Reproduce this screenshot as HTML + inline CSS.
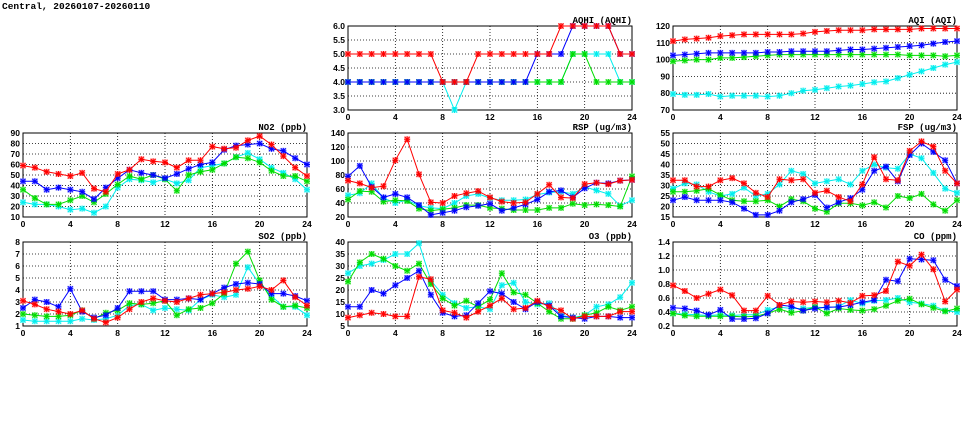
<!DOCTYPE html>
<html><head><meta charset="utf-8">
<style>
html,body{margin:0;padding:0;background:#fff;}
svg{display:block;}
text{font-family:"Liberation Mono",monospace;font-weight:bold;fill:#000;}
.tk{font-family:"Liberation Sans",sans-serif;font-size:8.5px;}
.ttl{font-size:9px;}
</style></head>
<body>
<svg id="chart" width="975" height="447" viewBox="0 0 975 447" xmlns="http://www.w3.org/2000/svg">
<rect width="975" height="447" fill="#fff"/>
<text x="2" y="9" font-size="9.5">Central, 20260107-20260110</text>
</svg>
<script>
const hours = [0,1,2,3,4,5,6,7,8,9,10,11,12,13,14,15,16,17,18,19,20,21,22,23,24];
const xTicks = [0,4,8,12,16,20,24];
const seriesColors = ['#ff0000','#0000ff','#00dd00','#00eeee'];
const seriesNames = ['red','blue','green','cyan'];

const aqhiRed   = [5,5,5,5,5,5,5,5,4,4,4,5,5,5,5,5,5,5,6,6,6,6,6,5,5];
const aqhiBlue  = [4,4,4,4,4,4,4,4,4,4,4,4,4,4,4,4,5,5,5,6,6,6,6,5,5];
const aqhiGreen = [4,4,4,4,4,4,4,4,4,4,4,4,4,4,4,4,4,4,4,5,5,4,4,4,4];
const aqhiCyan  = [4,4,4,4,4,4,4,4,4,3,4,4,4,4,4,4,4,4,4,5,5,5,5,4,4];
const aqhiTicks = [3.0,3.5,4.0,4.5,5.0,5.5,6.0];

const aqiRed   = [111,112,112.5,113,114,114.5,115,115,115,115,115,115.5,116.5,117,117.5,117.5,117.5,118,118,118,118,118.5,118.5,118.5,118.5];
const aqiBlue  = [102.5,103,103.5,104,104,104,104,104,104.5,104.5,105,105,105,105,105.5,106,106,106.5,107,107.5,108,108.5,109.5,110.5,111];
const aqiGreen = [99,99.5,100,100,101,101,101.5,102,102.5,103,103,103,103,103,103,103,103,103,103,103,102.5,102.5,102.5,102,102.5];
const aqiCyan  = [79.5,79,79,79.5,78,78.5,78.5,78.5,78,78.5,80,81.5,82,83,84,84.5,85.5,86.5,87,89,91,93,95,97,98.5];
const aqiTicks = [70,80,90,100,110,120];

const no2Red   = [59,57,53,51,49,52,37,34,51,55,65,63,62,57,64,64,77,75,76,83,87,79,68,57,49];
const no2Blue  = [44,44,36,38,36,34,27,38,47,55,52,50,47,51,56,60,62,74,78,79,80,75,73,66,60];
const no2Green = [36,28,22,22,26,30,24,32,41,49,46,50,46,35,50,53,55,61,67,66,62,54,49,49,44];
const no2Cyan  = [24,22,22,20,17,18,14,20,38,46,45,43,46,42,45,57,59,61,67,71,65,57,52,46,36];
const no2Ticks = [10,20,30,40,50,60,70,80,90];

const rspRed   = [72,68,62,64,101,131,81,41,40,50,54,57,48,42,40,41,53,66,48,47,67,69,67,72,73];
const rspBlue  = [78,93,63,48,53,48,37,23,26,29,34,36,39,29,33,38,45,56,58,48,61,69,68,72,73];
const rspGreen = [45,57,56,42,44,43,32,29,31,33,37,37,33,32,30,30,30,33,33,39,37,38,37,35,78];
const rspCyan  = [51,54,68,47,40,44,36,33,32,40,50,53,47,44,44,45,52,55,56,53,63,58,53,36,44];
const rspTicks = [20,40,60,80,100,120,140];

const fspRed   = [32.5,32.5,29.5,29.5,32.5,33.5,31,26.5,24.5,33,32.5,33,26.5,27.5,24.5,22.5,30.5,43.5,33,32.5,46.5,51,48.5,37,31];
const fspBlue  = [23,24.5,23,23,23,22,19,16,16,18,22,23.5,25.5,19.5,22,24,28,37,39,32,44.5,50,46,42,31];
const fspGreen = [27,27,27.5,28.5,25.5,23,22.5,22.5,23,20,23.5,22.5,19,17.5,21.5,21.5,20.5,22,19.5,25,24,26,21,18,23];
const fspCyan  = [28.5,31,30.5,27,25,26,29,25,26,30.5,37,35.5,31,32,33,30.5,37,40,38.5,38,45,43,36,28.5,26.5];
const fspTicks = [15,20,25,30,35,40,45,50,55];

const so2Red   = [3.1,2.8,2.4,2.2,2.0,2.3,1.6,1.3,1.7,2.4,3.0,3.3,3.1,3.0,3.3,3.6,3.7,3.8,4.0,4.1,4.3,4.0,4.8,3.4,2.7];
const so2Blue  = [2.5,3.2,3.0,2.6,4.1,2.2,1.7,1.9,2.5,3.9,3.9,3.9,3.2,3.2,3.3,3.2,3.7,4.2,4.5,4.6,4.5,3.7,3.7,3.5,3.1];
const so2Green = [2.0,1.9,1.8,1.8,1.9,2.3,1.6,2.1,2.3,2.9,2.8,2.9,3.1,1.9,2.4,2.5,2.9,3.7,6.2,7.2,4.8,3.2,2.6,2.7,2.5];
const so2Cyan  = [1.5,1.4,1.4,1.4,1.4,1.6,1.5,1.6,1.9,2.7,2.8,2.3,2.5,2.4,2.3,3.2,3.6,3.4,3.6,5.9,4.5,3.5,2.6,2.6,1.9];
const so2Ticks = [1,2,3,4,5,6,7,8];

const o3Red   = [8.5,9.5,10.5,10,9,9,25.5,24.5,11.5,10.5,8.5,11,13.5,16.5,12,12.5,15.5,13,11.5,8,9,9,9,11,11];
const o3Blue  = [13,13,20,18.5,22,25,28,18,10.5,9,9.5,14.5,19.5,18.5,15,12,15,13.5,9,8.5,8,9,9,8.5,8.5];
const o3Green = [23.5,31.5,35,33,30,28,31,22.5,16.5,13.5,15.5,13,16,27,19,18,14.5,11,8,8,9.5,10.5,13,11.5,13];
const o3Cyan  = [27,30,31,32.5,35,35,39.5,24,18,14.5,12.5,13,12,22,23,15,14,14.5,9.5,8.5,9.5,13,14,17,23];
const o3Ticks = [5,10,15,20,25,30,35,40];

const coRed   = [0.78,0.70,0.60,0.66,0.72,0.64,0.42,0.42,0.63,0.50,0.55,0.54,0.55,0.54,0.56,0.53,0.63,0.64,0.70,1.12,1.06,1.22,1.01,0.55,0.72];
const coBlue  = [0.46,0.45,0.42,0.36,0.43,0.30,0.30,0.31,0.38,0.50,0.48,0.42,0.45,0.47,0.47,0.50,0.54,0.57,0.86,0.84,1.16,1.15,1.14,0.86,0.77];
const coGreen = [0.38,0.35,0.34,0.34,0.34,0.34,0.33,0.34,0.38,0.44,0.39,0.42,0.47,0.38,0.45,0.43,0.42,0.44,0.49,0.56,0.59,0.51,0.46,0.41,0.45];
const coCyan  = [0.38,0.37,0.36,0.35,0.36,0.35,0.36,0.36,0.43,0.47,0.45,0.45,0.47,0.46,0.48,0.57,0.52,0.56,0.57,0.60,0.54,0.52,0.49,0.42,0.40];
const coTicks = [0.2,0.4,0.6,0.8,1.0,1.2,1.4];

const NS = 'http://www.w3.org/2000/svg';
const svg = document.getElementById('chart');
function mk(tag, attrs, parent){
  const e = document.createElementNS(NS, tag);
  for (const k in attrs) e.setAttribute(k, attrs[k]);
  (parent||svg).appendChild(e);
  return e;
}
const colX = [23,348,673], rowY = [26,133,242], PW = 284, PH = 84;

function panel(key, title, col, row, ticks, dec, series){
  const x0 = colX[col], y0 = rowY[row];
  const g = mk('g', {});
  
  
  const ymin = ticks[0], ymax = ticks[ticks.length-1];
  const xs = v => x0 + (v - hours[0]) / (hours[hours.length-1] - hours[0]) * PW;
  const ys = v => y0 + PH - (v - ymin) / (ymax - ymin) * PH;
  ticks.forEach(t => {
    const y = ys(t);
    const l = mk('line', {x1:x0, x2:x0+PW, y1:y, y2:y, stroke:'#000', 'stroke-width':0.8, 'stroke-dasharray':'1,2'}, g);
    
    
    const tx = mk('text', {x:x0-3, y:y+3, 'text-anchor':'end', class:'tk'}, g);
    tx.textContent = t.toFixed(dec);
    
    
  });
  xTicks.forEach(t => {
    const x = xs(t);
    const l = mk('line', {x1:x, x2:x, y1:y0, y2:y0+PH, stroke:'#000', 'stroke-width':0.8, 'stroke-dasharray':'1,2'}, g);
    
    
    const tx = mk('text', {x:x, y:y0+PH+10, 'text-anchor':'middle', class:'tk'}, g);
    tx.textContent = t;
    
    
  });
  const fr = mk('rect', {x:x0, y:y0, width:PW, height:PH, fill:'none', stroke:'#000', 'stroke-width':1}, g);
  
  
  const tt = mk('text', {x:x0+PW, y:y0-3, 'text-anchor':'end', class:'ttl'}, g);
  tt.textContent = title;
  
  
  [3,2,1,0].forEach(si => {
    const vals = series[si], c = seriesColors[si];
    const sg = mk('g', {}, g);
    
    
    const pts = vals.map((v,i) => xs(hours[i]).toFixed(1) + ',' + ys(v).toFixed(1)).join(' ');
    const pl = mk('polyline', {points:pts, fill:'none', stroke:c, 'stroke-width':1}, sg);
    
    
    vals.forEach((v,i) => {
      const x = xs(hours[i]), y = ys(v);
      const m = mk('g', {}, sg);
      
      
      mk('rect', {x:x-3, y:y-3, width:6, height:6, fill:c, 'fill-opacity':0.3}, m);
      mk('path', {d:`M${x-2.5} ${y-2.5}L${x+2.5} ${y+2.5}M${x-2.5} ${y+2.5}L${x+2.5} ${y-2.5}M${x-3} ${y}H${x+3}M${x} ${y-3}V${y+3}`, stroke:c, 'stroke-width':1}, m);
    });
  });
}
panel('aqhi','AQHI (AQHI)',1,0,aqhiTicks,1,[aqhiRed,aqhiBlue,aqhiGreen,aqhiCyan]);
panel('aqi','AQI (AQI)',2,0,aqiTicks,0,[aqiRed,aqiBlue,aqiGreen,aqiCyan]);
panel('no2','NO2 (ppb)',0,1,no2Ticks,0,[no2Red,no2Blue,no2Green,no2Cyan]);
panel('rsp','RSP (ug/m3)',1,1,rspTicks,0,[rspRed,rspBlue,rspGreen,rspCyan]);
panel('fsp','FSP (ug/m3)',2,1,fspTicks,0,[fspRed,fspBlue,fspGreen,fspCyan]);
panel('so2','SO2 (ppb)',0,2,so2Ticks,0,[so2Red,so2Blue,so2Green,so2Cyan]);
panel('o3','O3 (ppb)',1,2,o3Ticks,0,[o3Red,o3Blue,o3Green,o3Cyan]);
panel('co','CO (ppm)',2,2,coTicks,1,[coRed,coBlue,coGreen,coCyan]);
</script>
</body></html>
